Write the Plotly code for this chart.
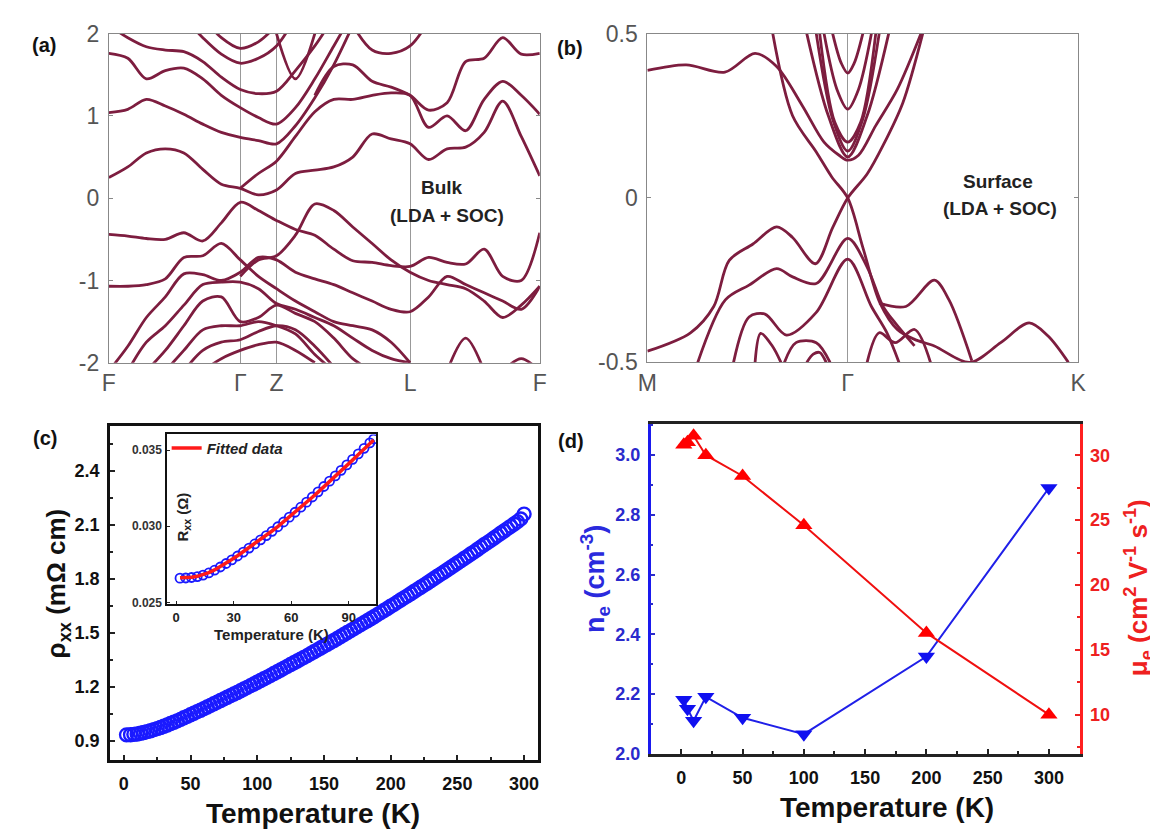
import plotly.graph_objects as go

W, H = 1158, 839
def px(x): return x / W
def py(y): return 1 - y / H

N = None
# ---------------- (a) bulk band structure ----------------
ka = [0, .044, .087, .131, .174, .218, .261, .305, .347, .389, .433, .478,
      .522, .566, .611, .655, .699, .742, .785, .828, .871, .914, .957, 1.0]
a00 = [2.10,1.95,1.84,1.80,1.78,1.66,1.47,1.32,1.27,1.30,1.55,1.85,2.20,N,N,N,N,N,N,N,N,N,N,N]
a01 = [1.76,1.70,1.45,1.55,1.58,1.45,1.25,1.10,0.98,0.90,1.10,1.45,1.85,2.25,N,N,N,N,N,N,N,N,N,N]
a02 = [1.04,1.08,1.20,1.12,1.02,0.90,0.80,0.74,0.70,0.66,0.88,1.22,1.62,2.10,N,N,N,N,N,N,N,N,N,N]
a03 = [0.25,0.38,0.55,0.60,0.55,0.35,0.17,0.12,0.04,0.10,0.30,0.34,0.38,0.50,0.78,0.72,0.66,0.47,0.60,0.62,0.80,1.18,0.75,0.27]
a04 = [N,N,N,N,N,N,N,N,N,N,N,1.25,1.60,1.62,1.42,1.35,1.25,1.07,1.16,1.66,1.70,1.95,1.75,1.76]
a05 = [N,N,N,N,N,N,N,0.12,0.30,0.45,0.75,1.05,1.20,1.20,1.25,1.28,1.25,0.86,1.00,0.82,1.20,1.42,1.25,1.02]
a06 = [N,N,N,N,2.20,1.95,1.75,1.64,1.70,1.85,2.20,N,N,N,N,N,N,N,N,N,N,N,N,N]
a07 = [N,N,N,N,N,2.20,1.95,1.82,1.90,2.10,N,N,N,N,N,N,N,N,N,N,N,N,N,N]
a08 = [N,N,N,N,N,N,N,N,N,2.00,1.45,2.00,N,N,N,N,N,N,N,N,N,N,N,N]
a09 = [N,N,N,N,N,N,N,N,N,N,N,N,N,2.10,1.80,1.76,1.85,2.15,N,N,N,N,N,N]
a10 = [-0.44,-0.46,-0.49,-0.50,-0.42,-0.52,-0.30,-0.05,-0.15,-0.27,-0.38,-0.45,-0.62,-0.76,-0.78,-0.82,-0.83,-0.72,-0.78,-0.80,-0.62,-0.95,-1.00,-0.42]
a11 = [N,N,N,N,N,N,N,-0.95,-0.75,-0.70,-0.45,-0.07,-0.15,-0.35,-0.55,-0.75,-0.90,-1.00,-1.05,-1.10,-1.25,-1.45,-1.30,-1.07]
a12 = [-1.07,-1.07,-1.05,-0.98,-0.72,-0.70,-0.55,-0.75,-0.95,-1.10,-1.25,-1.38,-1.50,-1.55,-1.60,-1.75,-2.00,N,N,N,N,N,N,N]
a13 = [-2.10,-1.80,-1.45,-1.20,-0.92,-0.93,-1.00,-0.90,-0.72,-0.75,-0.90,-0.98,-1.05,-1.15,-1.25,-1.35,-1.38,-1.20,-0.95,-1.05,-1.15,-1.25,-1.35,-1.07]
a14 = [N,-2.10,-1.75,-1.55,-1.30,-1.05,-1.02,-1.02,-1.10,-1.28,-1.35,-1.45,-1.55,-1.70,-1.85,-1.95,-2.00,N,N,N,N,N,N,N]
a15 = [N,N,-2.10,-1.85,-1.55,-1.25,-1.20,-1.50,-1.45,-1.30,-1.40,-1.50,-1.70,-1.95,-2.10,N,N,N,N,N,N,N,N,N]
a16 = [N,N,N,-2.10,-1.85,-1.60,-1.55,-1.55,-1.50,-1.55,-1.65,-1.90,-2.10,N,N,N,N,N,N,N,N,N,N,N]
a17 = [N,N,N,N,-2.10,-1.85,-1.75,-1.72,-1.62,-1.55,-1.60,-1.80,-2.05,N,N,N,N,N,N,N,N,N,N,N]
a18 = [N,N,N,N,N,-2.10,-1.95,-1.85,-1.78,-1.75,-1.85,-2.00,N,N,N,N,N,N,N,N,N,N,N,N]
a19 = [N,N,N,N,N,N,N,N,N,N,N,N,N,N,N,N,N,N,-2.10,-1.70,-2.10,N,N,N]
a20 = [N,N,N,N,N,N,N,N,N,N,N,N,N,N,N,N,N,N,N,N,N,-2.10,-1.95,-2.10]
bulk_bands = [a00,a01,a02,a03,a04,a05,a06,a07,a08,a09,a10,a11,a12,a13,a14,a15,a16,a17,a18,a19,a20]
ka_ticks = [0, .305, .389, .699, 1.0]
ka_labels = ["F", "Γ", "Z", "L", "F"]

# ---------------- (b) surface band structure ----------------
s01_k = [0, .09, .18, .25, .30, .36, .41, .445, .465, .49, .53, .58, .635]
s01_E = [.388, .405, .383, .44, .40, .28, .17, .13, .115, .13, .22, .33, .50]
s02_k = [.291, .337, .392, .428, .465, .50, .54, .58, .62, .666, .748, .82, .886, .93, .977]
s02_E = [.50, .25, .14, .064, 0, -.15, -.32, -.40, -.43, -.45, -.50, -.44, -.38, -.42, -.50]
s03_k = [0, .10, .154, .19, .245, .30, .337, .39, .43, .465, .51, .547, .593, .639]
s03_E = [-.466, -.41, -.33, -.19, -.14, -.088, -.12, -.20, -.09, 0, .073, .16, .29, .50]
s04_k = [.117, .181, .236, .30, .337, .392, .465, .51, .547, .575, .62]
s04_E = [-.50, -.31, -.265, -.215, -.24, -.26, -.123, -.21, -.33, -.38, -.45]
s05_k = [.20, .236, .273, .323, .392, .465, .52, .556, .584]
s05_E = [-.50, -.362, -.353, -.417, -.348, -.186, -.33, -.41, -.50]
s06_k = [.538, .60, .666, .70, .753]
s06_E = [-.32, -.33, -.25, -.31, -.495]
s07_k = [.25, .263, .29, .31]
s07_E = [-.50, -.412, -.45, -.50]
s08_k = [.318, .345, .392, .424]
s08_E = [-.50, -.44, -.44, -.50]
s09_k = [.51, .538, .575, .62, .657]
s09_E = [-.50, -.41, -.44, -.40, -.50]
s10_k = [.392, .43, .465, .50, .538]
s10_E = [.50, .24, .143, .24, .50]
s11_k = [.41, .44, .465, .49, .52]
s11_E = [.50, .33, .27, .33, .50]
s12_k = [.43, .45, .465, .48, .50]
s12_E = [.50, .41, .38, .41, .50]
s13_k = [.40, .435, .465, .495, .53]
s13_E = [.50, .23, .17, .23, .50]
s14_k = [.37, .42, .465, .51, .56]
s14_E = [.50, .25, .125, .25, .50]
s15_k = [.37, .385, .40, .415]
s15_E = [-.50, -.475, -.47, -.50]
surf_k = [s01_k,s02_k,s03_k,s04_k,s05_k,s06_k,s07_k,s08_k,s09_k,s10_k,s11_k,s12_k,s13_k,s14_k,s15_k]
surf_E = [s01_E,s02_E,s03_E,s04_E,s05_E,s06_E,s07_E,s08_E,s09_E,s10_E,s11_E,s12_E,s13_E,s14_E,s15_E]
kb_ticks = [0, .4647, 1.0]
kb_labels = ["M", "Γ", "K"]

# ---------------- (c) resistivity ----------------
T_main = [2] + [5 + 2.5 * i for i in range(119)]
rho_main = [0.932,
            0.933,0.935,0.937,0.941,0.945,0.950,0.955,0.961,0.967,0.973,0.980,0.987,0.995,1.002,1.010,1.018,
            1.027,1.035,1.044,1.052,1.061,1.069,1.078,1.087,1.096,1.105,1.114,1.123,1.132,1.141,1.150,1.159,
            1.168,1.177,1.187,1.196,1.206,1.215,1.225,1.234,1.244,1.253,1.263,1.273,1.283,1.293,1.303,1.313,
            1.323,1.333,1.343,1.353,1.363,1.373,1.384,1.394,1.405,1.415,1.426,1.436,1.447,1.457,1.468,1.479,
            1.490,1.501,1.512,1.523,1.534,1.545,1.556,1.567,1.578,1.589,1.601,1.612,1.624,1.635,1.647,1.658,
            1.670,1.682,1.694,1.705,1.717,1.729,1.741,1.753,1.765,1.777,1.789,1.802,1.814,1.826,1.838,1.850,
            1.863,1.875,1.888,1.900,1.913,1.925,1.938,1.950,1.963,1.976,1.989,2.001,2.014,2.027,2.040,2.053,
            2.066,2.079,2.092,2.105,2.118,2.133,2.160]
T_ins = [2,5,8,11,14,17,20,23,26,29,32,35,38,41,44,47,50,53,56,59,62,65,68,71,74,77,80,83,86,89,92,95,98,101,103]
R_ins = [0.02660,0.02661,0.02664,0.02670,0.02680,0.02694,0.02712,0.02733,0.02756,0.02780,0.02805,0.02831,
         0.02857,0.02884,0.02911,0.02939,0.02967,0.02997,0.03028,0.03060,0.03092,0.03125,0.03158,0.03192,
         0.03226,0.03261,0.03296,0.03331,0.03367,0.03403,0.03439,0.03475,0.03511,0.03547,0.03572]
R_fit = [0.02662,0.02663,0.02666,0.02672,0.02682,0.02696,0.02714,0.02735,0.02758,0.02782,0.02807,0.02833,
         0.02859,0.02886,0.02913,0.02941,0.02969,0.02998,0.03029,0.03060,0.03092,0.03124,0.03157,0.03190,
         0.03224,0.03258,0.03293,0.03328,0.03363,0.03398,0.03434,0.03470,0.03506,0.03542,0.03566]

# ---------------- (d) carrier density & mobility ----------------
T_d = [2, 5, 10, 20, 50, 100, 200, 300]
n_e = [2.18, 2.15, 2.11, 2.19, 2.12, 2.065, 2.325, 2.89]
mu_e = [30.8, 31.0, 31.5, 30.0, 28.4, 24.6, 16.3, 10.0]

BAND = "#7d1d3f"
fig = go.Figure()
for E in bulk_bands:
    fig.add_trace(go.Scatter(x=ka, y=E, mode="lines", line=dict(color=BAND, width=2.8, shape="spline", smoothing=0.9),
                             xaxis="x", yaxis="y", showlegend=False, hoverinfo="skip"))
for k, E in zip(surf_k, surf_E):
    fig.add_trace(go.Scatter(x=k, y=E, mode="lines", line=dict(color=BAND, width=2.8, shape="spline", smoothing=0.9),
                             xaxis="x2", yaxis="y2", showlegend=False, hoverinfo="skip"))

BLUE = "#1a1aff"
fig.add_trace(go.Scatter(x=T_main, y=rho_main, mode="markers", xaxis="x3", yaxis="y3", showlegend=False,
                         marker=dict(symbol="circle-open", size=13, color=BLUE, line=dict(width=2.4, color=BLUE))))
fig.add_trace(go.Scatter(x=T_ins, y=R_ins, mode="markers", xaxis="x4", yaxis="y4", showlegend=False,
                         marker=dict(symbol="circle-open", size=9, color=BLUE, line=dict(width=1.8, color=BLUE))))
fig.add_trace(go.Scatter(x=T_ins, y=R_fit, mode="lines", xaxis="x4", yaxis="y4", name="<b><i>Fitted data</i></b>",
                         line=dict(color="#ff1a1a", width=3.5), showlegend=True))

fig.add_trace(go.Scatter(x=T_d, y=n_e, mode="lines+markers", xaxis="x5", yaxis="y5", showlegend=False,
                         line=dict(color="#2020e8", width=2),
                         marker=dict(symbol="triangle-down", size=15, color="#1010f0")))
fig.add_trace(go.Scatter(x=T_d, y=mu_e, mode="lines+markers", xaxis="x5", yaxis="y6", showlegend=False,
                         line=dict(color="#f01010", width=2),
                         marker=dict(symbol="triangle-up", size=15, color="#ff0000")))

GRAY = "#555555"
band_tick = dict(family="Liberation Sans, Arial", size=23, color=GRAY)
bold = dict(family="Liberation Sans, Arial", size=18, color="#111111", weight="bold")
layout = dict(
    width=W, height=H, margin=dict(l=0, r=0, t=0, b=0), paper_bgcolor="white", plot_bgcolor="white",
    showlegend=True,
    xaxis=dict(domain=[px(92.3), px(530)], range=[0, 1], anchor="y", tickmode="array", tickvals=ka_ticks,
               ticktext=ka_labels, tickfont=band_tick, ticks="", showgrid=True, gridcolor="#999999", gridwidth=1,
               showline=True, linecolor="#888888", mirror=True, zeroline=False, ticklabelstandoff=0),
    yaxis=dict(domain=[py(352.7), py(13)], range=[-2, 2], anchor="x", tickvals=[-2, -1, 0, 1, 2],
               ticktext=["-2", "-1", "0", "1", "2"], tickfont=band_tick, ticks="inside", ticklen=4, tickcolor="#888",
               showgrid=False, showline=True, linecolor="#888888", mirror="ticks", zeroline=False, ticklabelstandoff=4),
    xaxis2=dict(domain=[px(639.3), px(1077)], range=[0, 1], anchor="y2", tickmode="array", tickvals=kb_ticks,
                ticktext=kb_labels, tickfont=band_tick, ticks="", showgrid=True, gridcolor="#999999", gridwidth=1,
                showline=True, linecolor="#888888", mirror=True, zeroline=False, ticklabelstandoff=0),
    yaxis2=dict(domain=[py(352.3), py(13)], range=[-0.5, 0.5], anchor="x2", tickvals=[-0.5, 0, 0.5],
                ticktext=["-0.5", "0", "0.5"], tickfont=band_tick, ticks="inside", ticklen=4, tickcolor="#888",
                showgrid=False, showline=True, linecolor="#888888", mirror="ticks", zeroline=False, ticklabelstandoff=4),
    xaxis3=dict(domain=[px(93.3), px(528.3)], range=[-10.5, 310.5], anchor="y3", tickvals=[0, 50, 100, 150, 200, 250, 300],
                tickfont=bold, ticks="inside", ticklen=5, tickwidth=2, tickcolor="#222",
                minor=dict(ticks="inside", ticklen=3, tickwidth=1.5, dtick=25, tickcolor="#222"),
                showline=True, linecolor="#111", linewidth=2.5, mirror=True, zeroline=False, showgrid=False,
                ticklabelstandoff=6),
    yaxis3=dict(domain=[py(762.3), py(418.3)], range=[0.794, 2.648], anchor="x3", tickvals=[0.9, 1.2, 1.5, 1.8, 2.1, 2.4],
                ticktext=["0.9", "1.2", "1.5", "1.8", "2.1", "2.4"],
                tickfont=bold, ticks="inside", ticklen=5, tickwidth=2, tickcolor="#222",
                minor=dict(ticks="inside", ticklen=3, tickwidth=1.5, dtick=0.15, tickcolor="#222"),
                showline=True, linecolor="#111", linewidth=2.5, mirror=True, zeroline=False, showgrid=False,
                ticklabelstandoff=4),
    xaxis4=dict(domain=[px(151.7), px(364)], range=[-4.6, 104.4], anchor="y4", tickvals=[0, 30, 60, 90],
                tickfont=dict(family="Liberation Sans, Arial", size=13, color="#222", weight="bold"),
                ticks="inside", ticklen=3, tickcolor="#222",
                showline=True, linecolor="#111", linewidth=2, mirror=True, zeroline=False, showgrid=False,
                ticklabelstandoff=0),
    yaxis4=dict(domain=[py(601.7), py(426.7)], range=[0.0249, 0.03602], anchor="x4", tickvals=[0.025, 0.030, 0.035],
                ticktext=["0.025", "0.030", "0.035"],
                tickfont=dict(family="Liberation Sans, Arial", size=12, color="#333", weight="bold"),
                ticks="inside", ticklen=3, tickcolor="#222",
                showline=True, linecolor="#111", linewidth=2, mirror=True, zeroline=False, showgrid=False,
                ticklabelstandoff=1),
    xaxis5=dict(domain=[px(642.7), px(1078.3)], range=[-25, 325], anchor="y5", tickvals=[0, 50, 100, 150, 200, 250, 300],
                tickfont=bold, ticks="inside", ticklen=5, tickwidth=2, tickcolor="#222",
                minor=dict(ticks="inside", ticklen=3, tickwidth=1.5, dtick=25, tickcolor="#222"),
                showline=True, linecolor="#222", linewidth=3, mirror=True, zeroline=False, showgrid=False,
                ticklabelstandoff=6),
    yaxis5=dict(domain=[py(756), py(416)], range=[2.0, 3.104], anchor="x5", tickvals=[2.0, 2.2, 2.4, 2.6, 2.8, 3.0],
                ticktext=["2.0", "2.2", "2.4", "2.6", "2.8", "3.0"],
                tickfont=dict(family="Liberation Sans, Arial", size=18, color="#2a2acc", weight="bold"),
                ticks="inside", ticklen=5, tickwidth=2, tickcolor="#2a2acc",
                minor=dict(ticks="inside", ticklen=3, tickwidth=1.5, dtick=0.1, tickcolor="#2a2acc"),
                showline=True, linecolor="#1a1aee", linewidth=2.5, zeroline=False, showgrid=False,
                ticklabelstandoff=4),
    yaxis6=dict(range=[7.0, 32.4], overlaying="y5", side="right", anchor="x5", tickvals=[10, 15, 20, 25, 30],
                tickfont=dict(family="Liberation Sans, Arial", size=18, color="#ee2020", weight="bold"),
                ticks="inside", ticklen=5, tickwidth=2, tickcolor="#ee2020",
                minor=dict(ticks="inside", ticklen=3, tickwidth=1.5, dtick=2.5, tickcolor="#ee2020"),
                showline=True, linecolor="#ff2020", linewidth=2.5, zeroline=False, showgrid=False,
                ticklabelstandoff=4),
    legend=dict(x=px(151), y=py(424), xanchor="left", yanchor="top", bgcolor="rgba(0,0,0,0)",
                font=dict(family="Liberation Sans, Arial", size=15, color="#222"), itemwidth=30,
                tracegroupgap=0),
)
fig.update_layout(**layout)

ann = []
def A(x, y, text, size=19, color="#111", bold_=True, angle=0, xanchor="center", family="Liberation Sans, Arial"):
    t = f"<b>{text}</b>" if bold_ else text
    ann.append(dict(x=px(x), y=py(y), xref="paper", yref="paper", text=t, showarrow=False,
                    font=dict(family=family, size=size, color=color), textangle=angle,
                    xanchor=xanchor, yanchor="middle"))

A(26, 25, "(a)", 20)
A(561, 28, "(b)", 20)
A(27, 430, "(c)", 20)
A(562, 433, "(d)", 20)
A(431, 172, "Bulk", 19, "#222")
A(436, 201, "(LDA + SOC)", 19, "#222")
A(995, 166, "Surface", 19, "#222")
A(997, 194, "(LDA + SOC)", 19, "#222")
A(300, 818, "Temperature (K)", 28, "#111")
A(883, 812, "Temperature (K)", 28, "#111")
A(258, 633, "Temperature (K)", 15, "#222")
A(40, 580, "ρ<sub>xx</sub> (mΩ cm)", 26, "#111", angle=-90)
A(168, 512, "R<sub>xx</sub> (Ω)", 15, "#222", angle=-90)
A(586, 576, "n<sub>e</sub> (cm<sup>-3</sup>)", 27, "#2a2add", angle=-90)
A(1138, 585, "μ<sub>e</sub> (cm<sup>2</sup> V<sup>-1</sup> s<sup>-1</sup>)", 26, "#ee2020", angle=-90)
fig.update_layout(annotations=ann)

fig.write_html("out.html")
